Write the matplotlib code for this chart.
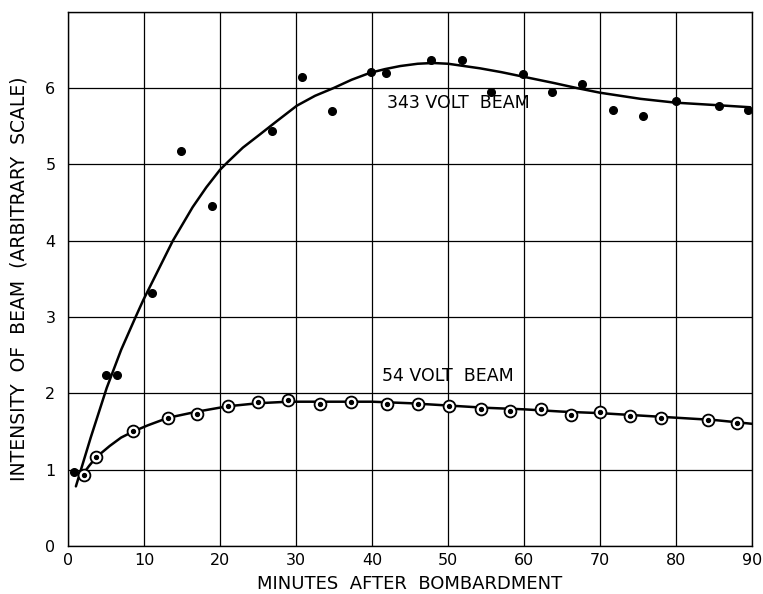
import matplotlib.pyplot as plt

# 343 volt beam: measured points (filled dots)
t_343 = [0.8, 5.0, 6.5, 11.1, 14.9, 18.9, 26.8, 30.8, 34.7, 39.9, 41.8, 47.7,
         51.8, 55.6, 59.9, 63.6, 67.6, 71.7, 75.6, 79.9, 85.6, 89.4]
i_343 = [0.97, 2.24, 2.24, 3.31, 5.17, 4.45, 5.44, 6.14, 5.70, 6.21, 6.20, 6.37,
         6.37, 5.95, 6.19, 5.95, 6.06, 5.72, 5.63, 5.83, 5.76, 5.72]

# 343 volt beam: drawn curve
tc_343 = [1.05, 3.0, 5.1, 7.0, 8.9, 9.9, 12.1, 13.8, 16.4, 18.2, 20.0, 21.0,
          23.0, 25.2, 27.5, 30.1, 32.5, 34.9, 37.3, 39.7, 41.7, 43.7, 46.0,
          48.0, 50.0, 54.2, 57.0, 59.9, 63.8, 67.0, 70.0, 75.3, 79.9, 84.9,
          89.7]
ic_343 = [0.78, 1.42, 2.07, 2.57, 3.0, 3.22, 3.66, 4.0, 4.44, 4.70, 4.93, 5.03,
          5.22, 5.39, 5.57, 5.77, 5.90, 6.0, 6.11, 6.20, 6.25, 6.29, 6.32,
          6.33, 6.32, 6.26, 6.21, 6.15, 6.07, 6.0, 5.94, 5.86, 5.81, 5.78,
          5.75]

# 54 volt beam: measured points (circled dots)
t_54 = [2.1, 3.7, 8.6, 13.2, 17.0, 21.0, 25.0, 29.0, 33.2, 37.2, 42.0, 46.1,
        50.1, 54.3, 58.2, 62.2, 66.1, 70.0, 73.9, 78.0, 84.2, 88.0]
i_54 = [0.93, 1.16, 1.50, 1.68, 1.73, 1.84, 1.89, 1.91, 1.86, 1.88, 1.86, 1.86,
        1.83, 1.80, 1.77, 1.79, 1.72, 1.75, 1.70, 1.68, 1.65, 1.61]

# 54 volt beam: drawn curve
tc_54 = [1.9, 2.8, 3.7, 5.5, 7.0, 8.6, 10.5, 13.2, 17.0, 21.0, 25.0, 29.0, 35.0,
         40.0, 45.0, 50.0, 55.0, 60.0, 65.0, 70.0, 75.0, 80.0, 85.0, 90.0]
ic_54 = [0.93, 1.05, 1.16, 1.31, 1.42, 1.50, 1.58, 1.68, 1.76, 1.83, 1.87, 1.89, 1.89,
         1.89, 1.87, 1.84, 1.81, 1.79, 1.76, 1.74, 1.71, 1.68, 1.65, 1.60]

fig = plt.figure(figsize=(7.63, 5.94), dpi=100)
ax = fig.add_axes([0.089, 0.081, 0.897, 0.899])

ax.plot(tc_343, ic_343, color="black", lw=1.8, solid_capstyle="round", zorder=3)
ax.plot(t_343, i_343, "o", color="black", ms=5.5, zorder=4)

ax.plot(tc_54, ic_54, color="black", lw=1.8, solid_capstyle="round", zorder=3)
ax.plot(t_54, i_54, "o", mfc="white", mec="black", mew=1.3, ms=8.5, zorder=4)
ax.plot(t_54, i_54, "o", color="black", ms=2.8, zorder=5)

ax.text(42.0, 5.81, "343 VOLT  BEAM", fontsize=12.5, va="center", ha="left")
ax.text(41.3, 2.23, "54 VOLT  BEAM", fontsize=12.5, va="center", ha="left")

ax.set_xlim(0, 90)
ax.set_ylim(0, 7)
ax.set_xticks(range(0, 91, 10))
ax.set_yticks(range(0, 8))
ax.set_yticklabels([str(v) for v in range(0, 7)] + [""])
ax.tick_params(length=0, labelsize=11.5)
ax.tick_params(axis="x", pad=5)
ax.tick_params(axis="y", pad=9)
ax.grid(True, color="black", lw=0.9)
for s in ax.spines.values():
    s.set_linewidth(1.0)

ax.set_xlabel("MINUTES  AFTER  BOMBARDMENT", fontsize=13)
ax.xaxis.set_label_coords(0.5, -0.055)
ax.set_ylabel("INTENSITY  OF  BEAM  (ARBITRARY  SCALE)", fontsize=13.5, labelpad=12)

plt.savefig("out.png", dpi=100)
